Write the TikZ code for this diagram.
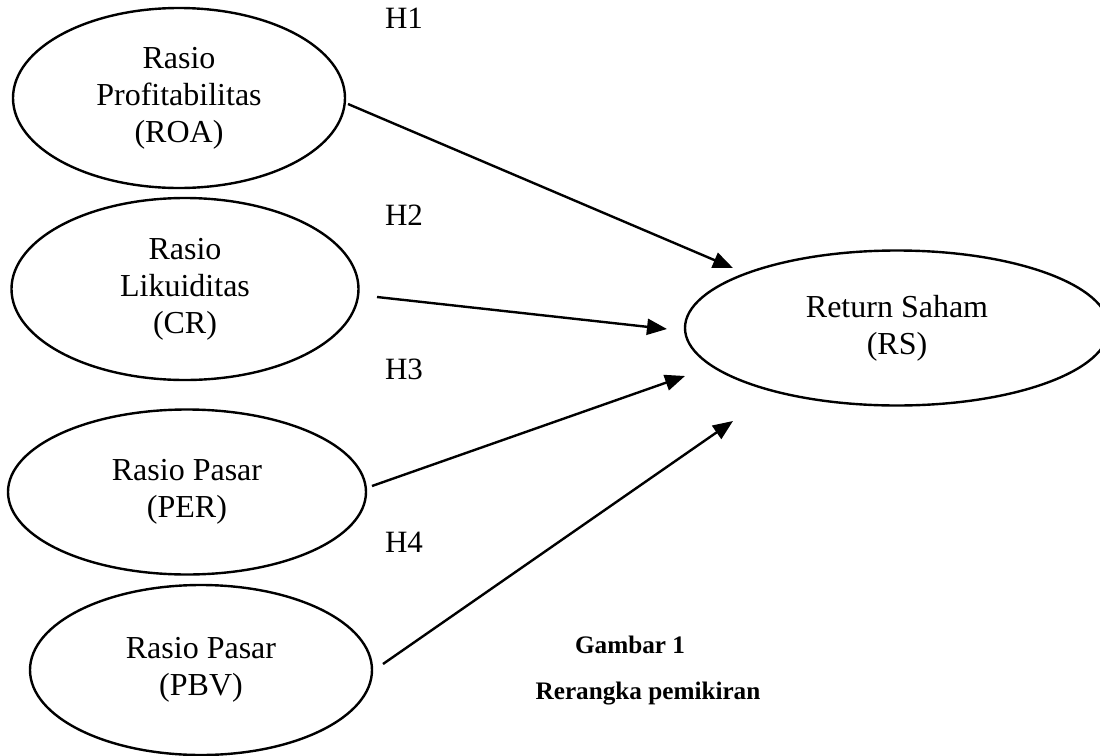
\documentclass[tikz,border=0pt]{standalone}
\usepackage{fontspec}
\setmainfont{Liberation Serif}
\usetikzlibrary{shapes.geometric,arrows.meta}
\begin{document}
\begin{tikzpicture}[x=0.5pt,y=-0.5pt,
  var/.style={ellipse,draw,line width=1.2pt,inner sep=0pt,align=center,
    font=\fontsize{16}{18.5}\selectfont},
  hyp/.style={font=\fontsize{15.5}{18.5}\selectfont,inner sep=0pt},
  captext/.style={font=\fontsize{12.6}{16}\selectfont\bfseries,inner sep=0pt},
  link/.style={line width=1.2pt,-{Triangle[length=10pt,width=8pt]}}]
\useasboundingbox (0,0) rectangle (1100,756);
\clip (0,0) rectangle (1100,756);
\node[var,minimum width=166pt,minimum height=90pt] (roa) at (179,98) {Rasio\\Profitabilitas\\(ROA)};
\node[var,minimum width=173.5pt,minimum height=91pt] (cr) at (185,289) {Rasio\\Likuiditas\\(CR)};
\node[var,minimum width=179pt,minimum height=82.5pt] (per) at (187,492) {Rasio Pasar\\(PER)};
\node[var,minimum width=171pt,minimum height=85pt] (pbv) at (201,670) {Rasio Pasar\\(PBV)};
\node[var,minimum width=212pt,minimum height=77.5pt] (rs) at (897,328) {Return Saham\\(RS)};
\coordinate (s1) at (348,104); \coordinate (t1) at (733,268);
\coordinate (s2) at (377,297); \coordinate (t2) at (667,329);
\coordinate (s3) at (372,486); \coordinate (t3) at (685,376);
\coordinate (s4) at (383,664); \coordinate (t4) at (733,421);
\draw[link] (s1) -- (t1);
\draw[link] (s2) -- (t2);
\draw[link] (s3) -- (t3);
\draw[link] (s4) -- (t4);
\node[hyp] (h1) at (404,18) {H1};
\node[hyp] (h2) at (404,215) {H2};
\node[hyp] (h3) at (404,369) {H3};
\node[hyp] (h4) at (404,542) {H4};
\node[captext] (g1) at (630,645) {Gambar 1};
\node[captext] (g2) at (648,694) {Rerangka pemikiran};
\end{tikzpicture}
\end{document}
